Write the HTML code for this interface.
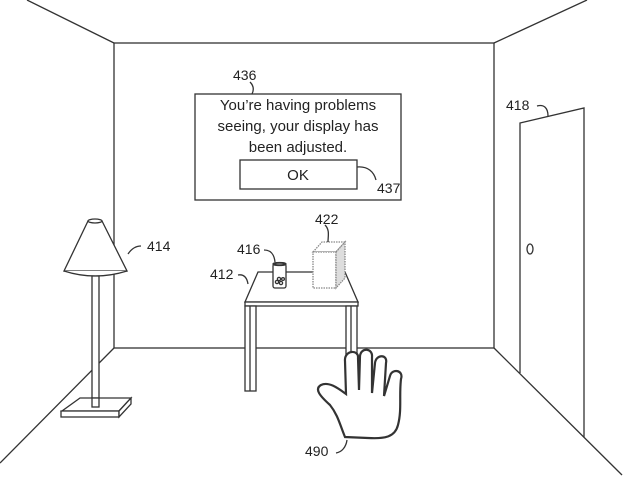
<!DOCTYPE html>
<html><head><style>
html,body{margin:0;padding:0;background:#fff;}
svg{display:block;}
text{font-family:"Liberation Sans",Arial,sans-serif;fill:#222;}
</style></head><body>
<svg width="640" height="490" viewBox="0 0 640 490" xmlns="http://www.w3.org/2000/svg">
<g stroke="#333" stroke-width="1.3" fill="none">
<line x1="27" y1="0" x2="114" y2="43"/>
<line x1="587" y1="0" x2="494" y2="43"/>
<rect x="114" y="43" width="380" height="305"/>
<line x1="114" y1="348" x2="0" y2="463"/>
<line x1="494" y1="348" x2="622" y2="475"/>
<polyline points="520,373 520,123 584,108 584,437"/>
<ellipse cx="530" cy="249" rx="3" ry="5"/>
<path d="M537,106 C544,104 548,108 548,116"/>
<rect x="195" y="94" width="206" height="106" fill="#fff"/>
<rect x="240" y="160" width="117" height="29"/>
<path d="M250,82 C254,86 254,90 252,94"/>
<path d="M357,167 C368,166 374,172 376,180"/>
<polygon points="64,271 88,221 102,221 127,271" fill="#fff"/>
<path d="M64,271 Q95,281 127,271" fill="#fff"/>
<ellipse cx="95" cy="221" rx="7" ry="2" fill="#fff"/>
<rect x="92" y="276" width="7" height="131" fill="#fff"/>
<polygon points="80,398 131,398 119,411 62,411" fill="#fff"/>
<rect x="61" y="411" width="58" height="6" fill="#fff"/>
<polygon points="119,411 131,398 131,404 119,417" fill="#fff"/>
<rect x="92" y="398" width="7" height="9" fill="#fff"/>
<path d="M128,254 C132,248 136,246 141,246"/>
<polygon points="258,272 345,272 358,302 245,302" fill="#fff"/>
<rect x="245" y="302" width="113" height="4" fill="#fff"/>
<rect x="245" y="306" width="11" height="85" fill="#fff"/>
<line x1="250" y1="306" x2="250" y2="391"/>
<rect x="346" y="306" width="11" height="50" fill="#fff"/>
<line x1="351" y1="306" x2="351" y2="356"/>
<path d="M238,275 C244,274 247,278 248,284"/>
<rect x="273" y="264" width="13" height="24" rx="2" fill="#fff"/>
<ellipse cx="279.5" cy="264" rx="6.5" ry="1.5"/>
<circle cx="277" cy="282" r="1.6"/><circle cx="281" cy="283" r="1.6"/><circle cx="279" cy="279" r="1.6"/><circle cx="283" cy="279" r="1.4"/>
<path d="M264,250 C270,250 274,253 275,262"/>
<g stroke="#888" stroke-dasharray="1.5,1">
<polygon points="313,252 322,242 345,242 336,252" fill="#fff"/>
<rect x="313" y="252" width="23" height="36" fill="#fff"/>
<polygon points="336,252 345,242 345,278 336,288" fill="#ddd"/>
</g>
<path d="M325,225 C330,230 328,236 328,242"/>
<path d="M345,437 C340,425 338,415 330,405 C320,396 314,389 321,385 C329,381 339,389 346,394 L345,361 C344,350 359,349 358,358 L359,390 L360,356 C361,347 373,348 372,357 L372,393 L375,363 C376,354 388,354 386,363 L384,396 L390,376 C392,368 404,370 401,379 C399,395 402,410 398,425 C395,437 385,439 368,438 L345,437 Z" fill="#fff" stroke-width="2.2"/>
<path d="M336,453 C342,452 346,447 347,440"/>
</g>
<g font-size="14">
<text x="233" y="80">436</text>
<text x="377" y="193">437</text>
<text x="506" y="110">418</text>
<text x="147" y="251">414</text>
<text x="315" y="224">422</text>
<text x="237" y="254">416</text>
<text x="210" y="279">412</text>
<text x="305" y="456">490</text>
</g>
<g font-size="15" text-anchor="middle">
<text x="298" y="110">You’re having problems</text>
<text x="298" y="131">seeing, your display has</text>
<text x="298" y="152">been adjusted.</text>
<text x="298" y="180">OK</text>
</g>
</svg>
</body></html>
